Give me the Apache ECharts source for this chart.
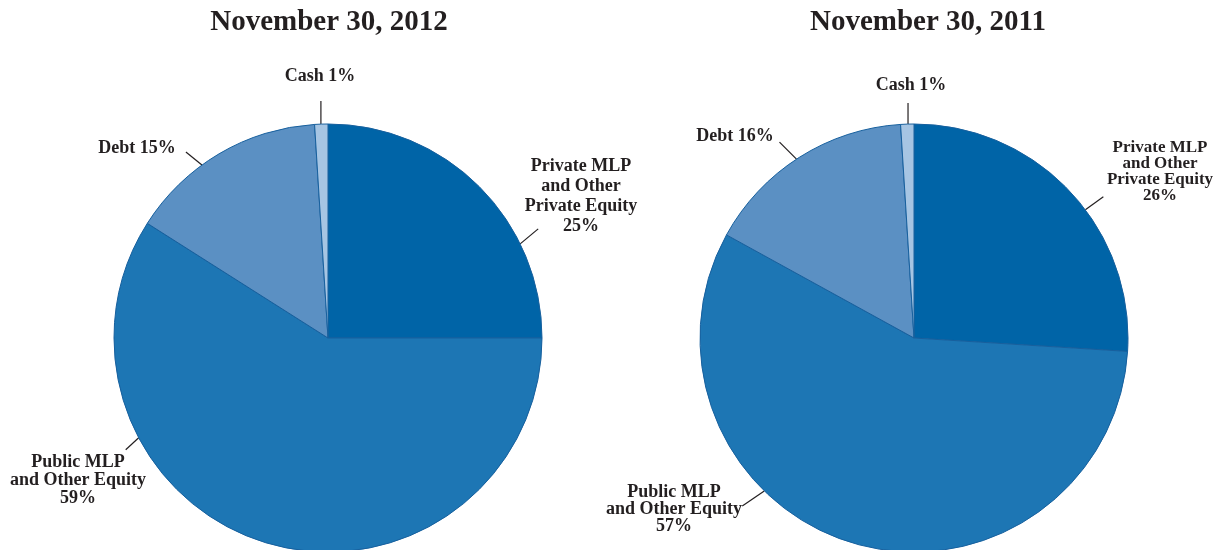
<!DOCTYPE html>
<html>
<head>
<meta charset="utf-8">
<script src="https://cdn.jsdelivr.net/npm/echarts@6/dist/echarts.min.js"></script>
<style>html,body{margin:0;padding:0;background:#fff}#c{width:1220px;height:550px}</style>
</head>
<body>
<div id="c"></div>
<script>
const categories = ['Private MLP\nand Other\nPrivate Equity', 'Public MLP\nand Other Equity', 'Debt', 'Cash'];
const titles = ['November 30, 2012', 'November 30, 2011'];
const values2012 = [25, 59, 15, 1];
const values2011 = [26, 57, 16, 1];
const colors = ['#0064A7', '#1D76B4', '#5B90C3', '#A6C5E3'];

// ---- layout only (label placement, leader lines) ----
const centers = [[328, 338], [914, 338]];
const pieRadius = 214;
const titleX = [328, 927];
const labelPos = [
  [[581, 196], [78, 480], [137, 148], [320, 76]],
  [[1160, 172], [674, 509], [735, 136], [911, 85]]
];
const labelLineHeights = [[20, 18, 18, 18], [16, 17, 18, 18]];
const labelFontSizes = [[18, 18, 18, 18], [17, 18, 18, 18]];
// leader line: [angle on rim (deg clockwise from top), dx, dy]
const leader = [
  [[63.9, 18, -15], [242.2, -13, 12], [323.9, -16, -13], [358.1, 0, -23]],
  [[53.2, 18, -13], [224.4, -22, 15], [326.7, -17, -17], [358.4, 0, -21]]
];

const chart = echarts.init(document.getElementById('c'));
const font = '"Liberation Serif", "Times New Roman", serif';

function makeSeries(idx, values) {
  return {
    type: 'pie',
    center: centers[idx],
    radius: pieRadius,
    startAngle: 90,
    clockwise: true,
    animation: false,
    silent: true,
    data: categories.map((n, i) => ({
      name: n, value: values[i],
      itemStyle: { color: colors[i] },
      label: { lineHeight: labelLineHeights[idx][i], fontSize: labelFontSizes[idx][i] }
    })),
    itemStyle: { borderColor: '#17609e', borderWidth: 1 },
    label: {
      show: true,
      position: 'outside',
      fontFamily: font,
      fontWeight: 'bold',
      fontSize: 18,
      color: '#231f20',
      align: 'center',
      formatter: p => p.name.indexOf('\n') >= 0 ? p.name + '\n' + p.value + '%' : p.name + ' ' + p.value + '%'
    },
    labelLine: { show: true, length: 15, length2: 0, lineStyle: { color: '#231f20', width: 1.2 } },
    labelLayout: function (params) {
      const pos = labelPos[idx][params.dataIndex];
      const l = leader[idx][params.dataIndex];
      const a = l[0] * Math.PI / 180;
      const c = centers[idx];
      const sx = c[0] + pieRadius * Math.sin(a);
      const sy = c[1] - pieRadius * Math.cos(a);
      return {
        x: pos[0], y: pos[1], align: 'center', verticalAlign: 'middle',
        labelLinePoints: [[sx, sy], [sx + l[1], sy + l[2]], [sx + l[1], sy + l[2]]]
      };
    }
  };
}

chart.setOption({
  backgroundColor: '#ffffff',
  title: titles.map((t, i) => ({
    text: t,
    left: titleX[i] - 4,
    top: 3,
    textAlign: 'center',
    textStyle: { fontFamily: font, fontWeight: 'bold', fontSize: 29, color: '#231f20' }
  })),
  series: [makeSeries(0, values2012), makeSeries(1, values2011)]
});
</script>
</body>
</html>
